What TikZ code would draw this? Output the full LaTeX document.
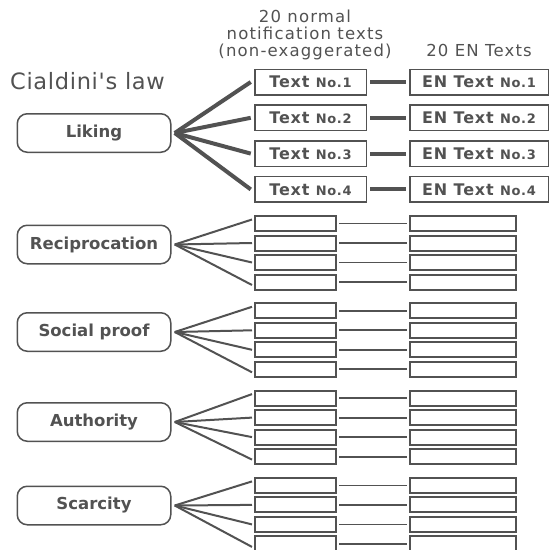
\documentclass[tikz,border=0pt]{standalone}
\usepackage{fontspec}
\setmainfont{DejaVu Sans}
\newfontfamily\titlefont[Ligatures=TeXOff,LetterSpace=3]{DejaVu Sans}
\definecolor{ink}{HTML}{525252}
\newcommand{\plainfont}{\fontsize{16.5}{17}\selectfont\addfontfeature{LetterSpace=7}}
\newcommand{\catfont}{\fontsize{16.5}{17}\selectfont\bfseries}
\newcommand{\boxfont}{\fontsize{16}{16}\selectfont\bfseries\addfontfeature{LetterSpace=5}}
\newcommand{\numtext}[1]{{\fontsize{13}{13}\selectfont #1}}
\tikzset{
  label text/.style={text=ink, inner sep=0pt},
  catbox/.style={draw=ink, line width=1.5pt, rounded corners=10pt,
    minimum width=153.5pt, minimum height=38.5pt, inner sep=0pt,
    outer xsep=4pt, text=ink, font=\catfont},
  bigbox/.style={draw=ink, line width=1.5pt, minimum height=25.5pt,
    inner sep=0pt, outer xsep=4pt, text=ink, font=\boxfont},
  smallbox/.style={draw=ink, line width=2pt, minimum height=15pt,
    inner sep=0pt, outer xsep=3pt},
  thickfan/.style={draw=ink, line width=4pt},
  thinfan/.style={draw=ink, line width=2pt},
  thicklink/.style={draw=ink, line width=4pt},
  thinlink/.style={draw=ink, line width=1.8pt}
}
\begin{document}
\begin{tikzpicture}[x=1pt, y=-1pt]
\useasboundingbox (0,0) rectangle (550,550);

% titles
\node[label text, anchor=base west, font=\titlefont\fontsize{22.5}{22.5}\selectfont]
  (law) at (10,89) {Cialdini's law};
\node[label text, anchor=base, font=\plainfont] (hd1) at (305,22) {20 normal};
\node[label text, anchor=base, font=\plainfont] (hd2) at (305,39) {notification texts};
\node[label text, anchor=base, font=\plainfont] (hd3) at (305,56) {(non-exaggerated)};
\node[label text, anchor=base, font=\plainfont] (hd4) at (479,56) {20 EN Texts};

% first principle with its four texts spelled out
\node[catbox] (c1) at (94,133) {Liking};
\foreach \j in {1,...,4}{
  \node[bigbox, minimum width=111.5pt] (t1\j) at (310.5,{82+35.8*(\j-1)})
    {Text \numtext{No.\j}};
  \node[bigbox, minimum width=138.5pt] (e1\j) at (479,{82+35.8*(\j-1)})
    {EN Text \numtext{No.\j}};
  \draw[thicklink] (t1\j.east) -- (e1\j.west);
  \draw[thickfan] (c1.east) -- (t1\j.west);
}

% remaining principles with empty text slots
\foreach \k/\lab/\ry/\cy in {2/Reciprocation/223.5/244.5,
                            3/Social proof/310.8/332,
                            4/Authority/398.1/422,
                            5/Scarcity/485.4/505.5}{
  \node[catbox] (c\k) at (94,\cy) {\lab};
  \foreach \j in {1,...,4}{
    \node[smallbox, minimum width=81pt] (t\k\j) at (295.5,{\ry+19.5*(\j-1)}) {};
    \node[smallbox, minimum width=106pt] (e\k\j) at (463,{\ry+19.5*(\j-1)}) {};
    \draw[thinlink] (t\k\j.east) -- (e\k\j.west);
  }
  \draw[thinfan] (c\k.east) -- ([yshift=4pt]t\k1.west);
  \draw[thinfan] (c\k.east) -- (t\k2.west);
  \draw[thinfan] (c\k.east) -- (t\k3.west);
  \draw[thinfan] (c\k.east) -- ([yshift=-3pt]t\k4.west);
}
\end{tikzpicture}
\end{document}
